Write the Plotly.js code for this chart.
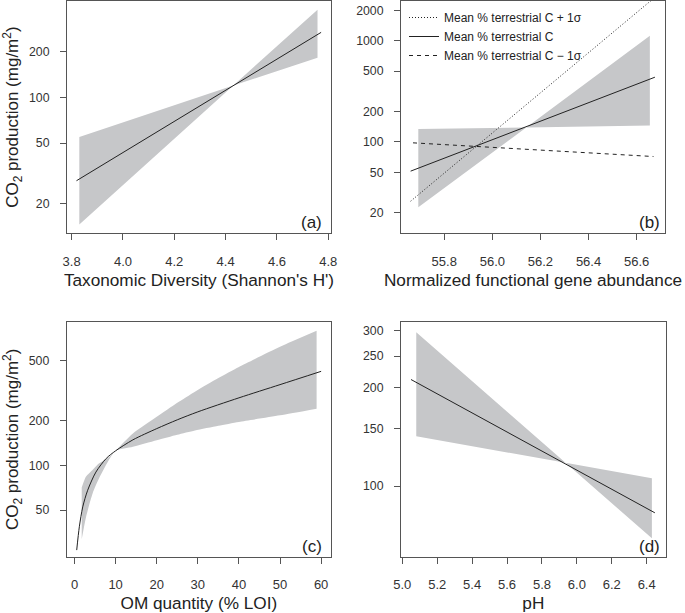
<!DOCTYPE html>
<html><head><meta charset="utf-8">
<script src="https://cdn.plot.ly/plotly-3.0.1.min.js"></script>
<style>html,body{margin:0;padding:0;background:#fff}</style>
</head><body><div id="chart" style="width:685px;height:613px"></div>
<script>
// ---- Panel (a): Taxonomic diversity ----
const aBandX = [3.83, 4.43, 4.758];
const aBandUpper = [54.8, 120, 380];
const aBandLower = [14.5, 120, 183];
const aLineX = [3.819, 4.772];
const aLineY = [28.2, 269];
const aTicksX = [3.8, 4.0, 4.2, 4.4, 4.6, 4.8];
const aTickTextX = ['3.8', '4.0', '4.2', '4.4', '4.6', '4.8'];
const aTicksY = [20, 50, 100, 200];

// ---- Panel (b): functional gene abundance ----
const bBandX = [55.692, 56.141, 56.655];
const bBandUpper = [134, 139, 1120];
const bBandLower = [22.6, 139, 145];
const bMeanX = [55.66, 56.676];
const bMeanY = [51.5, 436];
const bPlusX = [55.66, 56.676];
const bPlusY = [26, 2680];
const bMinusX = [55.67, 56.67];
const bMinusY = [98, 71.8];
const bTicksX = [55.8, 56.0, 56.2, 56.4, 56.6];
const bTickTextX = ['55.8', '56.0', '56.2', '56.4', '56.6'];
const bTicksY = [20, 50, 100, 200, 500, 1000, 2000];
const bLegendNames = ['Mean % terrestrial C + 1σ', 'Mean % terrestrial C', 'Mean % terrestrial C \u2212 1σ'];

// ---- Panel (c): OM quantity ----
const cBandX = [1.75, 2.8, 4.4, 6.0, 8.5, 10, 14.2, 20, 25, 29.3, 35, 40, 50, 58.9];
const cBandUpper = [71, 84, 93, 103, 114, 125, 163, 211, 262, 311, 384, 456, 622, 796];
const cBandLower = [31.9, 45, 64.7, 82, 110, 125, 133, 147, 160, 171, 184, 195, 216, 239];
const cLineX = [0.53, 1.17, 2.0, 3.2, 5.2, 7.7, 10, 14.2, 20, 25, 30, 40, 50, 60];
const cLineY = [27, 38.7, 52.6, 68, 90, 111, 125, 148, 176, 201.6, 228, 283, 347, 426];
const cTicksX = [0, 10, 20, 30, 40, 50, 60];
const cTicksY = [50, 100, 200, 500];

// ---- Panel (d): pH ----
const dBandX = [5.08, 5.935, 6.43];
const dBandUpper = [296, 117.8, 105.6];
const dBandLower = [142, 117.8, 69.2];
const dLineX = [5.05, 6.447];
const dLineY = [212, 82.8];
const dTicksX = [5.0, 5.2, 5.4, 5.6, 5.8, 6.0, 6.2, 6.4];
const dTickTextX = ['5.0', '5.2', '5.4', '5.6', '5.8', '6.0', '6.2', '6.4'];
const dTicksY = [100, 150, 200, 250, 300];

const FONT = '"Liberation Sans", Arial, Helvetica, sans-serif';
const BAND = '#c6c7c9';
const INK = '#222';

function band(x, up, lo, xa, ya, shape) {
  const ln = {width: 0, shape: shape || 'linear', smoothing: 0.6};
  return [
    {x: x, y: lo, xaxis: xa, yaxis: ya, type: 'scatter', mode: 'lines',
     line: ln, showlegend: false, hoverinfo: 'skip'},
    {x: x, y: up, xaxis: xa, yaxis: ya, type: 'scatter', mode: 'lines',
     line: ln, fill: 'tonexty', fillcolor: BAND,
     showlegend: false, hoverinfo: 'skip'}
  ];
}
function line(x, y, xa, ya, opts) {
  return Object.assign({x: x, y: y, xaxis: xa, yaxis: ya, type: 'scatter', mode: 'lines',
    line: {color: INK, width: 1}, showlegend: false}, opts || {});
}

const traces = [].concat(
  band(aBandX, aBandUpper, aBandLower, 'x', 'y'),
  [line(aLineX, aLineY, 'x', 'y')],
  band(bBandX, bBandUpper, bBandLower, 'x2', 'y2'),
  [line(bPlusX, bPlusY, 'x2', 'y2', {name: bLegendNames[0], showlegend: true, line: {color: INK, width: 1, dash: '1px,2px'}}),
   line(bMeanX, bMeanY, 'x2', 'y2', {name: bLegendNames[1], showlegend: true}),
   line(bMinusX, bMinusY, 'x2', 'y2', {name: bLegendNames[2], showlegend: true, line: {color: INK, width: 1, dash: '4px,4px'}})],
  band(cBandX, cBandUpper, cBandLower, 'x3', 'y3', 'spline'),
  [line(cLineX, cLineY, 'x3', 'y3', {line: {color: INK, width: 1, shape: 'spline', smoothing: 0.8}})],
  band(dBandX, dBandUpper, dBandLower, 'x4', 'y4'),
  [line(dLineX, dLineY, 'x4', 'y4')]
);

const common = {
  showline: true, mirror: true, linecolor: '#555', linewidth: 1,
  ticks: 'outside', ticklen: 6, tickcolor: '#555', tickwidth: 1,
  showgrid: false, zeroline: false, fixedrange: true
};
function xax(domain, range, tickvals, ticktext, title, anchor) {
  return Object.assign({}, common, {
    domain: domain, range: range, anchor: anchor, tickmode: 'array', tickvals: tickvals,
    ticktext: ticktext, ticklabelstandoff: 10,
    tickfont: {family: FONT, size: 13, color: '#333'},
    title: {text: title, font: {family: FONT, size: 17.2, color: INK}, standoff: 6}
  });
}
function yax(domain, range, tickvals, title, anchor) {
  const o = Object.assign({}, common, {
    type: 'log', domain: domain, range: range, anchor: anchor, tickmode: 'array',
    tickvals: tickvals, ticktext: tickvals.map(String), ticklabelstandoff: 8,
    tickfont: {family: FONT, size: 12.3, color: '#333'}
  });
  if (title) o.title = {text: title, font: {family: FONT, size: 17, color: INK}, standoff: 8};
  return o;
}
const yTitle = 'CO<sub>2</sub> production (mg/m<sup>2</sup>)';

const layout = {
  width: 685, height: 613,
  margin: {l: 0, r: 0, t: 0, b: 0},
  paper_bgcolor: '#fff', plot_bgcolor: '#fff',
  font: {family: FONT, color: INK},
  showlegend: true,
  legend: {x: 404 / 685, y: 1 - 3 / 613, xanchor: 'left', yanchor: 'top',
           bgcolor: 'rgba(0,0,0,0)', borderwidth: 0, itemwidth: 30, traceorder: 'normal',
           font: {family: FONT, size: 12, color: INK}, tracegroupgap: 0},
  xaxis: xax([0.0978, 0.4832], [3.782, 4.8105], aTicksX, aTickTextX, "Taxonomic Diversity (Shannon's H')", 'y'),
  yaxis: yax([0.6194, 0.9984], [1.103, 2.637], aTicksY, yTitle, 'x'),
  xaxis2: xax([0.5854, 0.9708], [55.62, 56.718], bTicksX, bTickTextX, 'Normalized functional gene abundance', 'y2'),
  yaxis2: yax([0.6194, 0.9984], [1.098, 3.392], bTicksY, null, 'x2'),
  xaxis3: xax([0.0974, 0.4832], [-1.9, 62.4], cTicksX, cTicksX.map(String), 'OM quantity (% LOI)', 'y3'),
  yaxis3: yax([0.0918, 0.4747], [1.387, 2.960], cTicksY, yTitle, 'x3'),
  xaxis4: xax([0.5854, 0.9718], [4.9926, 6.509], dTicksX, dTickTextX, 'pH', 'y4'),
  yaxis4: yax([0.0918, 0.4747], [1.7835, 2.5025], dTicksY, null, 'x4'),
  annotations: [
    ['x', 'y', '(a)', -7], ['x2', 'y2', '(b)', -3], ['x3', 'y3', '(c)', -7], ['x4', 'y4', '(d)', -4]
  ].map(([xr, yr, t, sh]) => ({
    xref: xr + ' domain', yref: yr + ' domain', x: 1, y: 0, xanchor: 'right', yanchor: 'bottom',
    xshift: sh, yshift: -1, text: t, showarrow: false,
    font: {family: FONT, size: 17, color: INK}
  }))
};

Plotly.newPlot('chart', traces, layout, {displayModeBar: false, staticPlot: true});
</script></body></html>
